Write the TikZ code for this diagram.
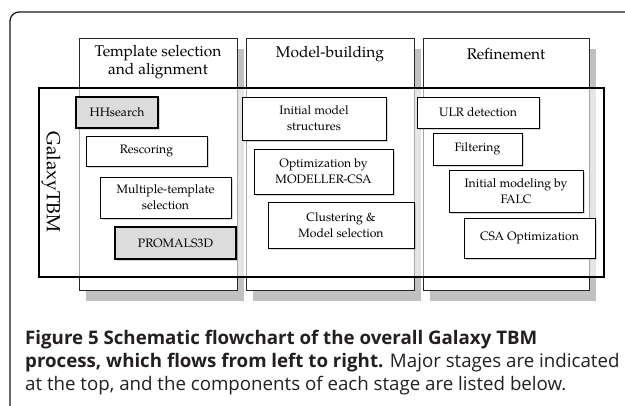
\documentclass[tikz,border=0pt]{standalone}
\usepackage{fontspec}
\newfontfamily\pal{TeX Gyre Pagella}
\newfontfamily\capfont{Open Sans}
\usetikzlibrary{shadows}
\definecolor{boxgray}{HTML}{DCDCDC}
\definecolor{captxt}{HTML}{231F20}
\tikzset{
  colbox/.style={draw=black!85, line width=0.7pt, fill=white, inner sep=0pt,
    drop shadow={shadow xshift=7pt, shadow yshift=-11pt, opacity=0.35, fill=black!70}},
  bigbox/.style={draw=black, line width=1.3pt, fill=white, fill opacity=0.6, inner sep=0pt},
  comp/.style={draw=black, line width=0.8pt, fill=white, inner sep=1pt, align=center,
    font=\pal\fontsize{12.2}{16}\selectfont,
    drop shadow={shadow xshift=2pt, shadow yshift=-2pt, opacity=0.3}},
  compg/.style={comp, fill=boxgray, line width=2pt},
  hdr/.style={align=center, font=\pal\fontsize{15.5}{18.5}\selectfont, inner sep=0pt},
  galt/.style={font=\pal\fontsize{19}{22}\selectfont, inner sep=0pt},
  captl/.style={anchor=west, inner sep=0pt, font=\capfont\fontsize{18.7}{22}\selectfont, text=captxt}
}
\begin{document}
\begin{tikzpicture}[x=1pt,y=-1pt]
\useasboundingbox (0,0) rectangle (625,406);
% outer frame
\coordinate (fa) at (10,410);
\coordinate (fb) at (10,12);
\coordinate (fc) at (628,12);
\draw[line width=1.3pt, black!90, rounded corners=9pt] (fa) -- (fb) -- (fc);
% stage columns
\node[colbox, minimum width=158pt, minimum height=252pt] (c1) at (158,164) {};
\node[colbox, minimum width=168pt, minimum height=252pt] (c2) at (330,164) {};
\node[colbox, minimum width=166pt, minimum height=252pt] (c3) at (506,164) {};
\node[hdr] (h1) at (158,62) {Template selection\\and alignment};
\node[hdr] (h2) at (330,54) {Model-building};
\node[hdr] (h3) at (506,54) {Refinement};
% GalaxyTBM box
\node[bigbox, minimum width=565pt, minimum height=189pt] (gal) at (321.5,182.5) {};
\node[galt, rotate=-90] (galtx) at (51,182) {GalaxyTBM};
% components
\node[compg, minimum width=82pt, minimum height=31pt] (hh) at (117,112.5) {HHsearch};
\node[comp, minimum width=121pt, minimum height=30pt] (rs) at (146.5,151) {Rescoring};
\node[comp, minimum width=131pt, minimum height=41pt] (mt) at (165.5,197.5) {Multiple-template\\selection};
\node[compg, minimum width=121pt, minimum height=32pt] (pr) at (175.5,243) {PROMALS3D};
\node[comp, minimum width=144pt, minimum height=43pt] (im) at (314,118.5) {Initial model\\structures};
\node[comp, minimum width=139pt, minimum height=45pt] (op) at (323.5,171.5) {Optimization by\\MODELLER-CSA};
\node[comp, minimum width=146pt, minimum height=46pt] (cl) at (341,225) {Clustering \&\\Model selection};
\node[comp, minimum width=122pt, minimum height=31pt] (ulr) at (478,112.5) {ULR detection};
\node[comp, minimum width=89pt, minimum height=32pt] (fi) at (477.5,149) {Filtering};
\node[comp, minimum width=134pt, minimum height=42pt] (fa2) at (516,191) {Initial modeling by\\FALC};
\node[comp, minimum width=131pt, minimum height=40pt] (csa) at (529.5,238) {CSA Optimization};
% caption
\node[captl] (cap1) at (25,340) {\textbf{Figure 5 Schematic flowchart of the overall Galaxy TBM}};
\node[captl] (cap2) at (25,363) {\textbf{process, which flows from left to right.} Major stages are indicated};
\node[captl] (cap3) at (25,386) {at the top, and the components of each stage are listed below.};
\end{tikzpicture}
\end{document}
